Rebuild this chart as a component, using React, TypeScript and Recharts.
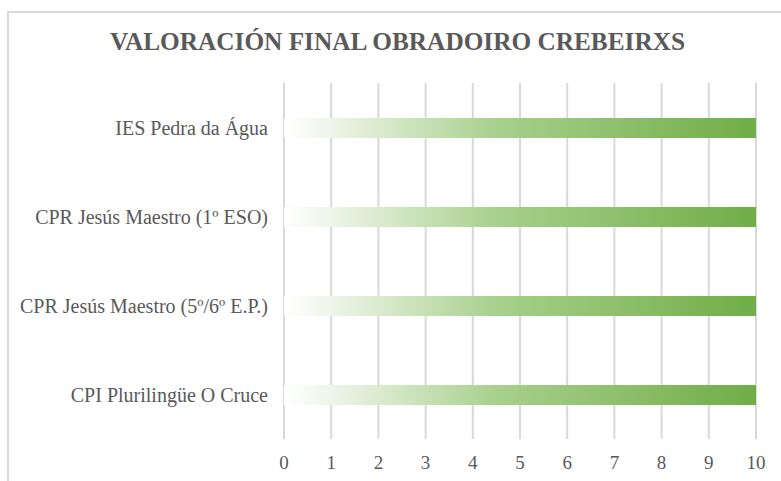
import React from "react";
import { BarChart, Bar, XAxis, YAxis, CartesianGrid } from "recharts";

const categories = [
  "IES Pedra da Água",
  "CPR Jesús Maestro (1º ESO)",
  "CPR Jesús Maestro (5º/6º E.P.)",
  "CPI Plurilingüe O Cruce",
];
const values = [10, 10, 10, 10];
const xTicks = [0, 1, 2, 3, 4, 5, 6, 7, 8, 9, 10];
const title = "VALORACIÓN FINAL OBRADOIRO CREBEIRXS";

const data = categories.map((name, i) => ({ name, value: values[i] }));

const FONT = '"Liberation Serif", "Times New Roman", Times, serif';
const TEXT = "#595959";

export default function App() {
  return (
    <div
      style={{
        position: "absolute",
        left: 0,
        top: 0,
        width: 781,
        height: 481,
        overflow: "hidden",
        background: "#fff",
        fontFamily: FONT,
      }}
    >
      <div
        style={{
          position: "absolute",
          left: 7,
          top: 11,
          width: 900,
          height: 600,
          border: "2px solid #d9d9d9",
          boxSizing: "border-box",
        }}
      />
      <div
        style={{
          position: "absolute",
          left: 0,
          width: 795,
          top: 29,
          textAlign: "center",
          fontFamily: FONT,
          fontWeight: 700,
          fontSize: 25.3,
          lineHeight: "24px",
          color: TEXT,
          whiteSpace: "nowrap",
        }}
      >
        {title}
      </div>
      <div style={{ position: "absolute", left: 0, top: 0, fontFamily: FONT }}>
        <BarChart
          width={781}
          height={481}
          data={data}
          layout="vertical"
          margin={{ top: 83, right: 25, bottom: 0, left: 0 }}
          style={{ fontFamily: FONT }}
        >
          <defs>
            <linearGradient id="barGrad" x1="0" y1="0" x2="1" y2="0">
              <stop offset="0%" stopColor="#ffffff" stopOpacity={1} />
              <stop offset="10%" stopColor="#eef5e9" stopOpacity={1} />
              <stop offset="45%" stopColor="#a8d08d" stopOpacity={1} />
              <stop offset="100%" stopColor="#70ad47" stopOpacity={1} />
            </linearGradient>
          </defs>
          <CartesianGrid
            horizontal={false}
            vertical={true}
            stroke="#d9d9d9"
            strokeWidth={2}
          />
          <XAxis
            type="number"
            domain={[0, 10]}
            ticks={xTicks}
            interval={0}
            height={42}
            axisLine={false}
            tickLine={false}
            tickSize={0}
            tickMargin={17}
            tick={{ fill: TEXT, fontFamily: FONT, fontSize: 19 }}
          />
          <YAxis
            type="category"
            dataKey="name"
            width={284}
            axisLine={false}
            tickLine={false}
            tickSize={0}
            tickMargin={16}
            interval={0}
            tick={{ fill: TEXT, fontFamily: FONT, fontSize: 20 }}
          />
          <Bar
            dataKey="value"
            fill="url(#barGrad)"
            barSize={20}
            isAnimationActive={false}
          />
        </BarChart>
      </div>
    </div>
  );
}
